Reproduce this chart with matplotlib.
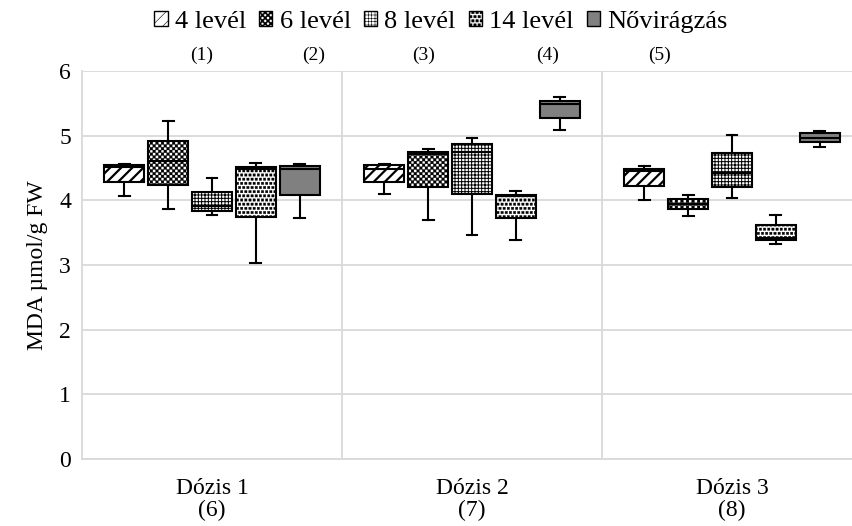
import warnings
import numpy as np
import matplotlib
matplotlib.use('Agg')
import matplotlib.pyplot as plt
import matplotlib.hatch as mhatch
from matplotlib.path import Path
from matplotlib.patches import Patch

warnings.filterwarnings('ignore')

doses = ['Dózis 1\n(6)', 'Dózis 2\n(7)', 'Dózis 3\n(8)']
series = ['4 levél', '6 levél', '8 levél', '14 levél', 'Nővirágzás']
top_labels = ['(1)', '(2)', '(3)', '(4)', '(5)']

# one row per dose: whisker low, q1, median, q3, whisker high
lev4 = [[4.06, 4.29, 4.52, 4.55, 4.56],
        [4.10, 4.28, 4.49, 4.54, 4.56],
        [4.00, 4.22, 4.46, 4.48, 4.53]]
lev6 = [[3.86, 4.23, 4.61, 4.92, 5.23],
        [3.70, 4.20, 4.72, 4.75, 4.79],
        [3.76, 3.86, 3.94, 4.02, 4.08]]
lev8 = [[3.77, 3.84, 3.91, 4.13, 4.35],
        [3.47, 4.10, 4.74, 4.87, 4.97],
        [4.03, 4.21, 4.43, 4.73, 5.01]]
lev14 = [[3.03, 3.75, 4.48, 4.51, 4.57],
         [3.39, 3.72, 4.06, 4.09, 4.14],
         [3.32, 3.38, 3.42, 3.62, 3.78]]
flower = [[3.72, 4.09, 4.48, 4.53, 4.56],
          [5.08, 5.28, 5.49, 5.54, 5.60],
          [4.83, 4.90, 4.97, 5.04, 5.07]]
values = [lev4, lev6, lev8, lev14, flower]


# extra hatch patterns: 'c' = checkerboard, 'd' = stipple dots
class Checker(mhatch.HatchPatternBase):
    def __init__(self, hatch, density):
        self.n = hatch.count('c') * density * 2
        self.num_vertices = self.n * self.n // 2 * 5

    def set_vertices_and_codes(self, vertices, codes):
        s = 1.0 / self.n
        sq = Path.unit_rectangle()
        cells = [(i, j) for i in range(self.n) for j in range(self.n) if (i + j) % 2 == 0]
        vertices[:] = np.concatenate([sq.vertices * s + [i * s, j * s] for i, j in cells])
        codes[:] = np.tile(sq.codes, len(cells))


class Dots(mhatch.Shapes):
    size = 0.55
    filled = True

    def __init__(self, hatch, density):
        self.num_rows = hatch.count('d') * density
        sq = Path.unit_rectangle()
        self.shape_vertices = sq.vertices - 0.5
        self.shape_codes = sq.codes
        super().__init__(hatch, density)


mhatch._hatch_types.extend([Checker, Dots])
mhatch._validate_hatch_pattern = lambda h: None

hatches = ['///', 'ccc', '+++++', 'dddd', None]
faces = ['white', 'white', 'white', 'white', '#808080']
hatch_lw = [1.6, 0.2, 0.7, 0.3, 1.0]

plt.rcParams['font.family'] = ['Liberation Serif', 'DejaVu Serif']
plt.rcParams['font.size'] = 17

fig = plt.figure(figsize=(8.53, 5.26), dpi=100)
ax = fig.add_axes([82 / 853, 67 / 526, 780 / 853, 388 / 526])

offsets = (np.arange(len(series)) - 2) * 0.169
for k in range(len(series)):
    stats = [dict(whislo=r[0], q1=r[1], med=r[2], q3=r[3], whishi=r[4], fliers=[])
             for r in values[k]]
    pos = np.arange(len(doses)) + offsets[k]
    res = ax.bxp(stats, positions=pos, widths=0.154, capwidths=0.042,
                 patch_artist=True, showfliers=False, manage_ticks=False,
                 boxprops=dict(facecolor=faces[k], edgecolor='black', linewidth=1.5,
                               hatch=hatches[k]),
                 medianprops=dict(color='black', linewidth=1.5),
                 whiskerprops=dict(color='black', linewidth=1.5),
                 capprops=dict(color='black', linewidth=1.5))
    for b in res['boxes']:
        if hasattr(b, 'set_hatch_linewidth'):
            b.set_hatch_linewidth(hatch_lw[k])

ax.set_xlim(-0.5, 2.5)
ax.set_ylim(0, 6)
ax.set_yticks(range(7))
ax.set_xticks(range(len(doses)))
ax.set_xticklabels(doses, linespacing=1.0)
ax.tick_params(length=0)
ax.tick_params(axis='y', pad=8)
ax.tick_params(axis='x', pad=14)
ax.set_axisbelow(True)
ax.yaxis.grid(True, color='#d9d9d9', linewidth=1.3)
for xv in [0.5, 1.5]:
    ax.axvline(xv, color='#d9d9d9', linewidth=1.3, zorder=0)
for s in ['top', 'right']:
    ax.spines[s].set_visible(False)
for s in ['left', 'bottom']:
    ax.spines[s].set_color('#d9d9d9')
    ax.spines[s].set_linewidth(1.3)
ax.set_ylabel('MDA µmol/g FW', labelpad=8)

handles = [Patch(facecolor=faces[k], edgecolor='black', hatch=hatches[k], linewidth=1)
           for k in range(len(series))]
leg = fig.legend(handles, series, loc='upper center', bbox_to_anchor=(441 / 853, 1.025),
                 ncol=5, frameon=False, fontsize=19, handlelength=0.5, handleheight=0.5,
                 handletextpad=0.27, columnspacing=0.5)
for p in leg.get_patches():
    if hasattr(p, 'set_hatch_linewidth'):
        p.set_hatch_linewidth(0.4)

for lab, xp in zip(top_labels, [202, 314, 424, 548, 660]):
    fig.text(xp / 853, 1 - 55 / 526, lab, ha='center', va='center', fontsize=14)

fig.savefig('out.png', dpi=100)
